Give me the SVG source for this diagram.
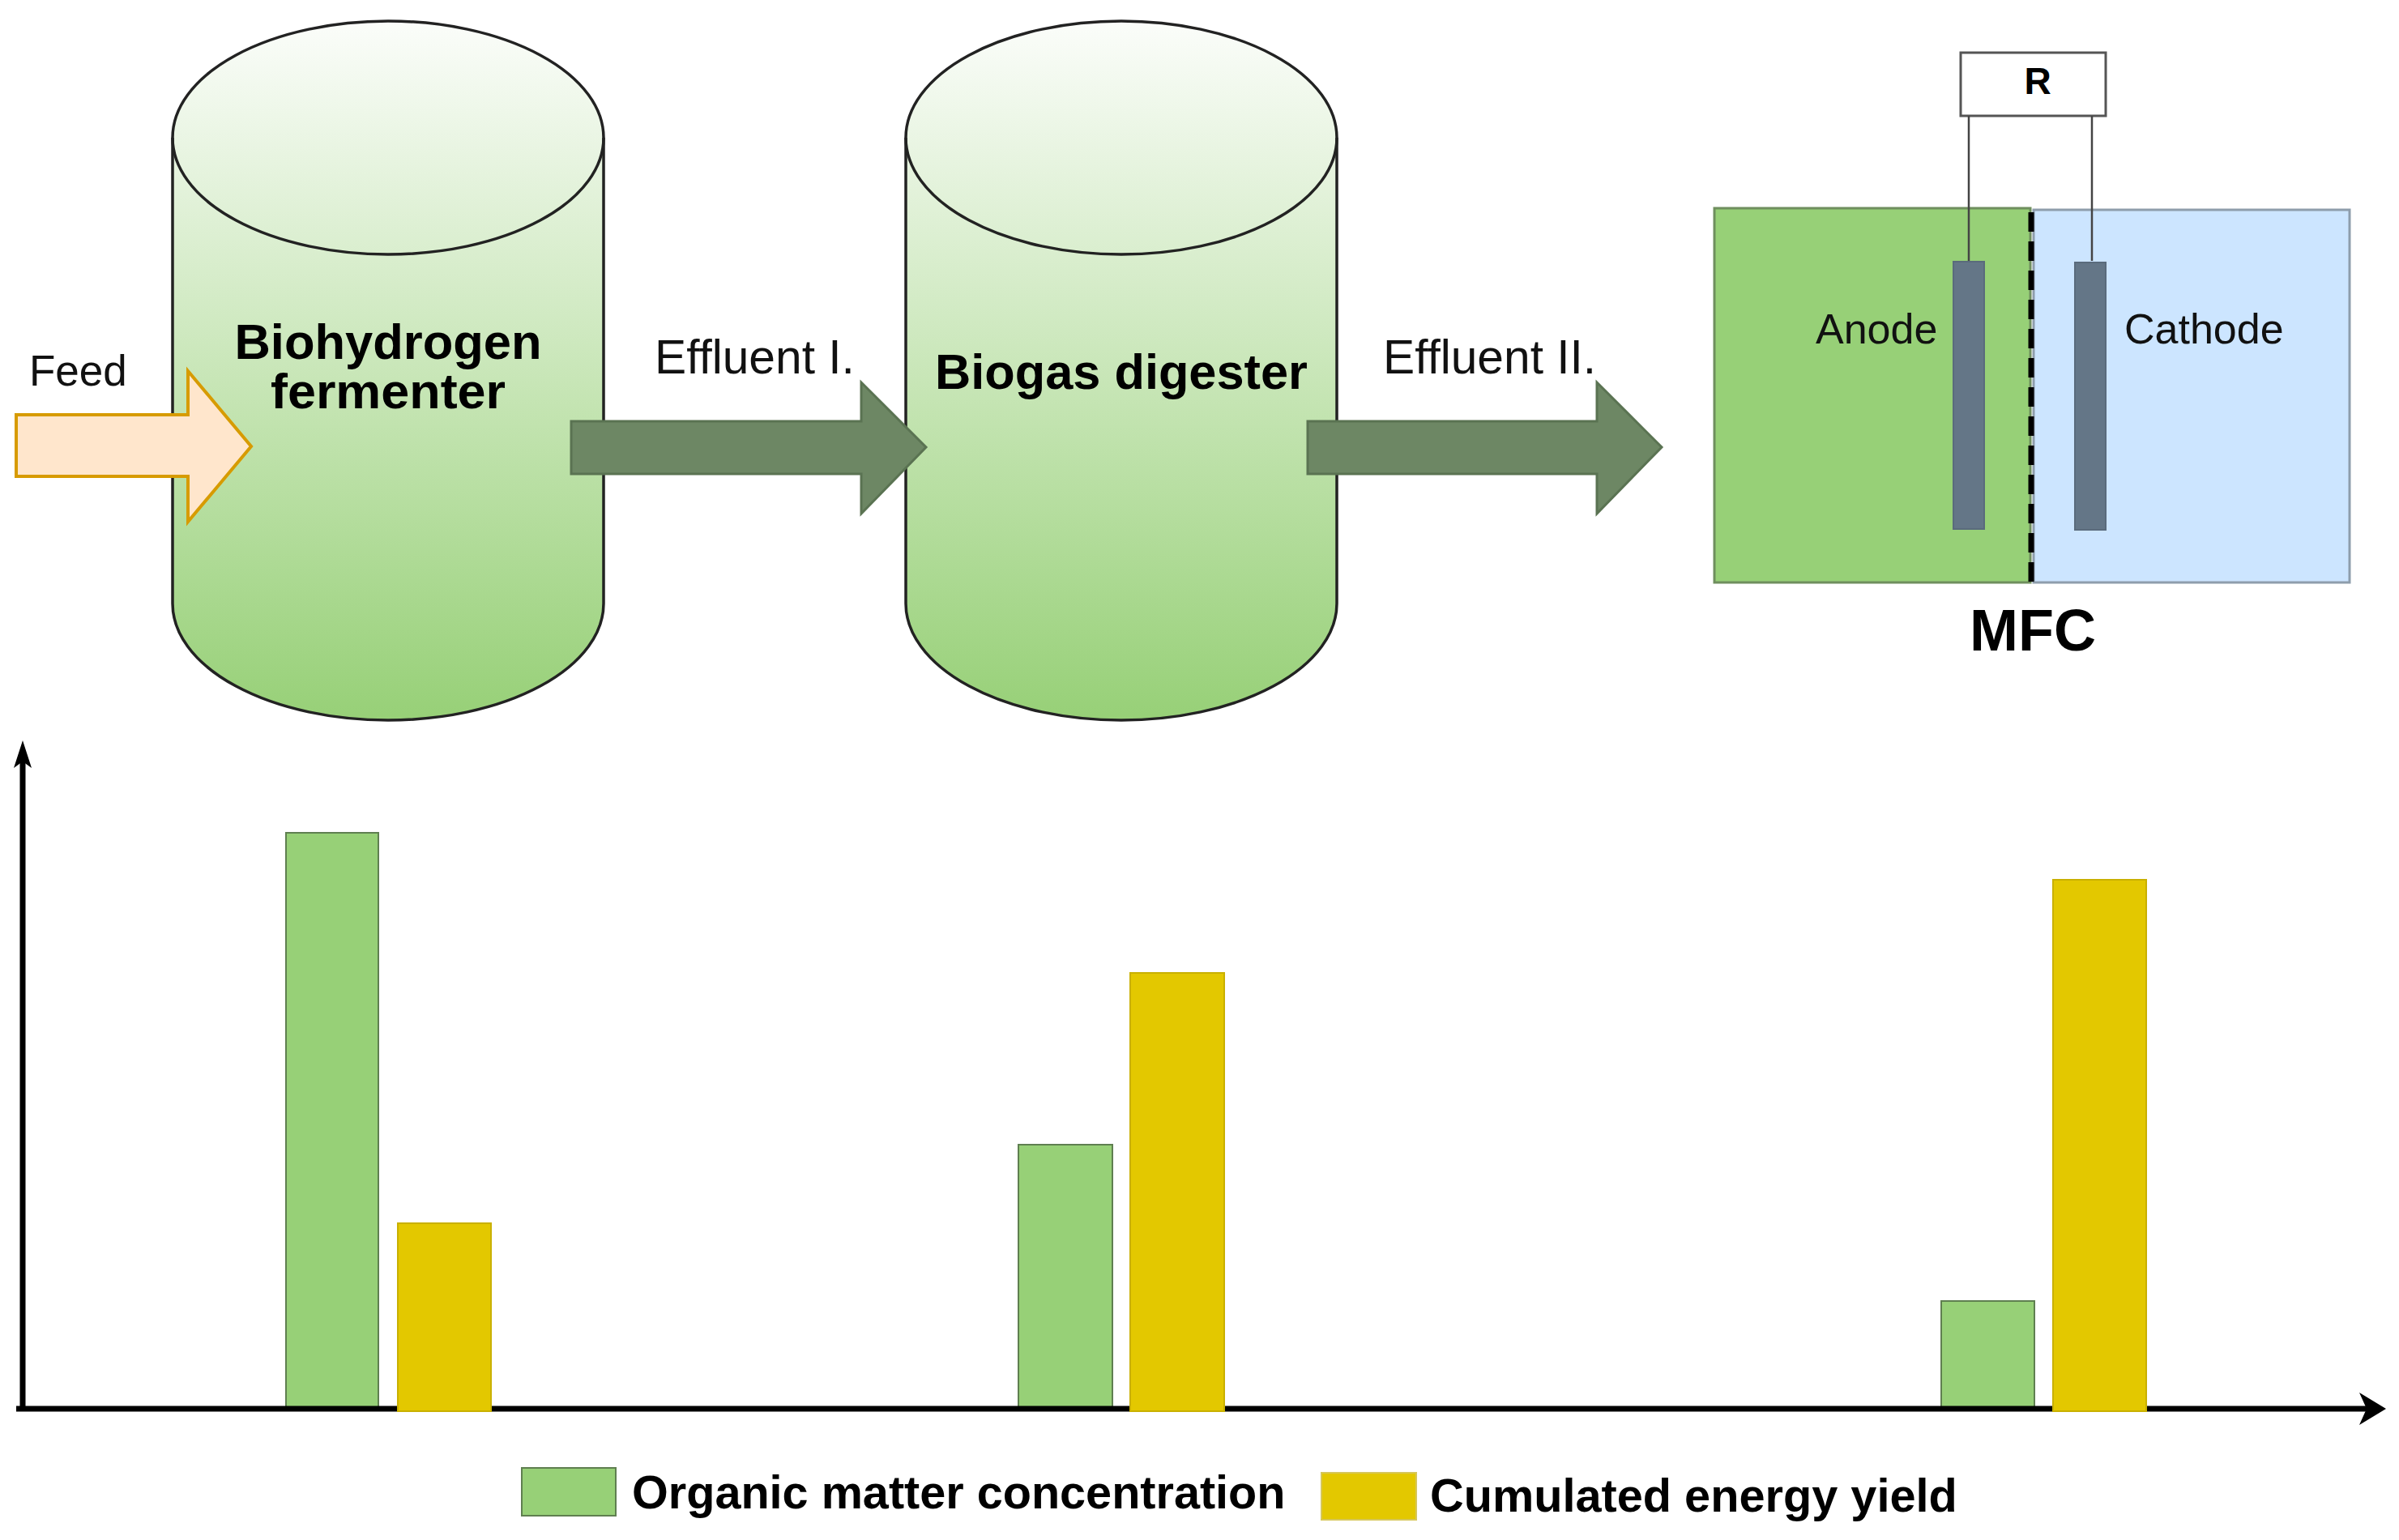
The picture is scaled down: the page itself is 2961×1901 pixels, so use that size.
<svg xmlns="http://www.w3.org/2000/svg" width="2961" height="1901" viewBox="0 0 2961 1901">
<style>
text{font-family:"Liberation Sans",Arial,sans-serif;fill:#111}
.b{font-weight:bold;fill:#000}
.cyl{fill:url(#g);stroke:#222;stroke-width:3.5}
.flow{fill:#6d8764;stroke:#5a7352;stroke-width:3}
.green{fill:#97d077;stroke:#5f7f50;stroke-width:2}
.yellow{fill:#e3c800;stroke:#c9b000;stroke-width:2}
.el{fill:#647687;stroke:#5a6b7c;stroke-width:2}
.wire{fill:none;stroke:#444;stroke-width:2.5}
.axis{fill:none;stroke:#000;stroke-width:7}
</style>
<defs>
<linearGradient id="g" gradientUnits="userSpaceOnUse" x1="0" y1="26" x2="0" y2="889">
<stop offset="0" stop-color="#fbfdfa"/><stop offset="1" stop-color="#97d077"/>
</linearGradient>
</defs>
<rect width="2961" height="1901" fill="#fff"/>

<g id="biohydrogen-fermenter">
<path class="cyl" d="M213 170A266 144 0 0 1 745 170V745A266 144 0 0 1 213 745Z"/>
<path class="cyl" style="fill:none" d="M213 170A266 144 0 0 0 745 170"/>
<text class="b" x="479" y="443" font-size="61.5" text-anchor="middle">Biohydrogen</text>
<text class="b" x="479" y="504" font-size="61.5" text-anchor="middle" textLength="290" lengthAdjust="spacingAndGlyphs">fermenter</text>
</g>
<g id="biogas-digester">
<path class="cyl" d="M1118 170A266 144 0 0 1 1650 170V745A266 144 0 0 1 1118 745Z"/>
<path class="cyl" style="fill:none" d="M1118 170A266 144 0 0 0 1650 170"/>
<text class="b" x="1384" y="480" font-size="61.3" text-anchor="middle">Biogas digester</text>
</g>
<g id="mfc">
<rect x="2116" y="257" width="390" height="462" fill="#97d077" stroke="#6f8f5e" stroke-width="3"/>
<rect x="2510" y="259" width="390" height="460" fill="#cce5ff" stroke="#8e9dac" stroke-width="3"/>
<path d="M2507 262V719" fill="none" stroke="#000" stroke-width="7" stroke-dasharray="24 12"/>
<rect class="el" x="2411" y="323" width="38" height="330"/>
<rect class="el" x="2561" y="324" width="38" height="330"/>
<text x="2241" y="424" font-size="52">Anode</text>
<text x="2622" y="424" font-size="52">Cathode</text>
<text class="b" x="2509" y="803" font-size="72" text-anchor="middle">MFC</text>
</g>
<g id="resistor">
<rect x="2420" y="65" width="179" height="78" fill="#fff" stroke="#555" stroke-width="3"/>
<text class="b" x="2515" y="116" font-size="46" text-anchor="middle">R</text>
</g>
<g id="bars">
<rect class="green" x="353" y="1028" width="114" height="712"/>
<rect class="green" x="1257" y="1413" width="116" height="327"/>
<rect class="green" x="2396" y="1606" width="115" height="134"/>
</g>
<g id="connectors">
<path class="wire" d="M2430 143V322"/>
<path class="wire" d="M2582 143V322"/>
<path class="axis" d="M28 1739V930"/>
<path d="M28 914L39 948L28 940L17 948Z" fill="#000"/>
<path class="axis" d="M20 1739H2925"/>
<path d="M2945 1739L2912 1719L2921 1739L2912 1759Z" fill="#000"/>
<path d="M20 512H232V458L310 551L232 644V588H20Z" fill="#ffe6cc" stroke="#d79b00" stroke-width="4"/>
<path class="flow" d="M705 520H1063V472L1143 552L1063 634V585H705Z"/>
<path class="flow" d="M1614 520H1971V472L2051 552L1971 634V585H1614Z"/>
</g>
<g id="bars-yellow">
<rect class="yellow" x="491" y="1510" width="115" height="232"/>
<rect class="yellow" x="1395" y="1201" width="116" height="541"/>
<rect class="yellow" x="2534" y="1086" width="115" height="656"/>
</g>
<g id="labels">
<text x="36" y="476" font-size="53">Feed</text>
<text x="808" y="461" font-size="58.7">Effluent I.</text>
<text x="1707" y="461" font-size="58.7">Effluent II.</text>
</g>
<g id="legend">
<rect class="green" x="644" y="1812" width="116" height="59"/>
<text class="b" x="780" y="1862" font-size="57.6">Organic matter concentration</text>
<rect x="1631" y="1818" width="117" height="58" fill="#e3c800" stroke="#d6c75a" stroke-width="2"/>
<text class="b" x="1765" y="1866" font-size="57.7">Cumulated energy yield</text>
</g>
</svg>
